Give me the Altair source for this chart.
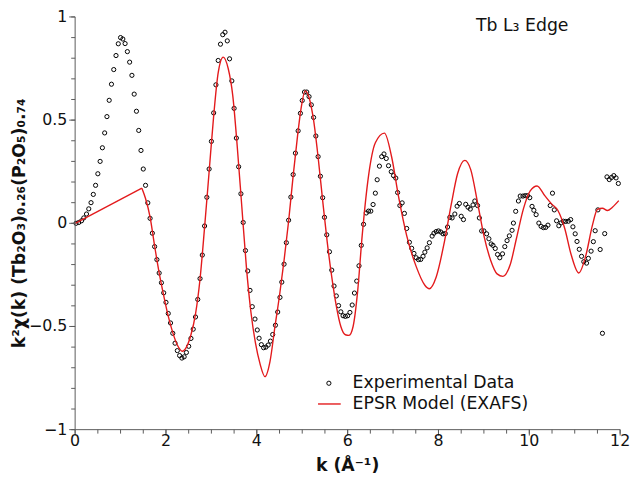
import altair as alt
import pandas as pd

# Experimental data (k, k^2 chi)
exp_k = [0.02, 0.08, 0.14, 0.19, 0.25, 0.30, 0.35, 0.40, 0.45, 0.50, 0.55, 0.60, 0.65, 0.70, 0.75,
         0.80, 0.85, 0.90, 0.95, 1.00, 1.05, 1.10, 1.15, 1.20, 1.25, 1.30, 1.35, 1.40, 1.45, 1.50,
         1.55, 1.60, 1.65, 1.70, 1.75, 1.80, 1.85, 1.90, 1.95, 2.00, 2.05, 2.10, 2.15, 2.20, 2.25,
         2.30, 2.35, 2.40, 2.45, 2.50, 2.55, 2.60, 2.65, 2.70, 2.75, 2.80, 2.85, 2.90, 2.95, 3.00,
         3.05, 3.10, 3.15, 3.20, 3.25, 3.30, 3.35, 3.40, 3.45, 3.50, 3.55, 3.60, 3.65, 3.70, 3.75,
         3.80, 3.85, 3.90, 3.96, 4.01, 4.05, 4.10, 4.15, 4.20, 4.25, 4.30, 4.35, 4.41, 4.46, 4.51,
         4.55, 4.60, 4.65, 4.70, 4.75, 4.80, 4.85, 4.91, 4.96, 5.00, 5.05, 5.10, 5.15, 5.20, 5.25,
         5.30, 5.35, 5.40, 5.45, 5.49, 5.54, 5.60, 5.65, 5.70, 5.75, 5.80, 5.85, 5.90, 5.95, 6.00,
         6.05, 6.10, 6.15, 6.20, 6.25, 6.30, 6.35, 6.41, 6.46, 6.51, 6.56, 6.61, 6.65, 6.70, 6.75,
         6.80, 6.85, 6.90, 6.96, 7.01, 7.06, 7.10, 7.15, 7.20, 7.25, 7.30, 7.36, 7.41, 7.46, 7.51,
         7.56, 7.61, 7.66, 7.70, 7.75, 7.80, 7.86, 7.90, 7.95, 8.00, 8.05, 8.10, 8.15, 8.20, 8.25,
         8.30, 8.36, 8.41, 8.46, 8.50, 8.55, 8.60, 8.65, 8.70, 8.76, 8.80, 8.86, 8.90, 8.95, 9.00,
         9.06, 9.11, 9.16, 9.20, 9.25, 9.30, 9.35, 9.41, 9.46, 9.51, 9.56, 9.62, 9.65, 9.70, 9.76,
         9.80, 9.86, 9.91, 9.96, 10.01, 10.06, 10.10, 10.15, 10.21, 10.26, 10.31, 10.36, 10.41, 10.46, 10.51,
         10.55, 10.60, 10.65, 10.70, 10.75, 10.80, 10.86, 10.91, 10.96, 11.01, 11.05, 11.10, 11.15, 11.20, 11.26,
         11.30, 11.36, 11.41, 11.45, 11.51, 11.56, 11.61, 11.66, 11.71, 11.76, 11.81, 11.86, 11.91, 11.96]
exp_v = [0.000, 0.004, 0.012, 0.026, 0.045, 0.070, 0.100, 0.140, 0.184, 0.240, 0.300, 0.366, 0.438, 0.517, 0.596,
         0.674, 0.745, 0.813, 0.870, 0.900, 0.893, 0.871, 0.832, 0.781, 0.717, 0.626, 0.543, 0.450, 0.353, 0.263,
         0.184, 0.099, 0.024, -0.048, -0.113, -0.176, -0.241, -0.288, -0.337, -0.383, -0.437, -0.483, -0.533, -0.581, -0.617,
         -0.641, -0.653, -0.647, -0.626, -0.596, -0.558, -0.513, -0.454, -0.369, -0.268, -0.154, -0.013, 0.126, 0.263, 0.397,
         0.535, 0.671, 0.789, 0.868, 0.914, 0.926, 0.884, 0.797, 0.690, 0.557, 0.413, 0.274, 0.143, 0.004, -0.132,
         -0.231, -0.325, -0.404, -0.464, -0.517, -0.557, -0.588, -0.603, -0.600, -0.590, -0.571, -0.539, -0.494, -0.430, -0.359,
         -0.285, -0.198, -0.094, 0.015, 0.127, 0.236, 0.340, 0.448, 0.533, 0.595, 0.636, 0.636, 0.614, 0.574, 0.513,
         0.423, 0.323, 0.228, 0.124, 0.029, -0.056, -0.138, -0.227, -0.304, -0.352, -0.399, -0.429, -0.448, -0.451, -0.448,
         -0.432, -0.396, -0.338, -0.280, -0.206, -0.107, -0.005, 0.050, 0.059, 0.059, 0.091, 0.146, 0.211, 0.277, 0.323,
         0.336, 0.314, 0.279, 0.250, 0.231, 0.219, 0.149, 0.086, 0.099, 0.048, -0.025, -0.092, -0.121, -0.146, -0.167,
         -0.176, -0.175, -0.160, -0.140, -0.119, -0.094, -0.062, -0.048, -0.040, -0.037, -0.042, -0.051, -0.050, -0.018, 0.029,
         0.026, 0.045, 0.083, 0.096, 0.034, 0.018, 0.092, 0.078, 0.069, 0.089, 0.108, 0.086, 0.026, -0.037, -0.037,
         -0.051, -0.075, -0.100, -0.107, -0.122, -0.151, -0.167, -0.148, -0.113, -0.084, -0.061, -0.034, 0.001, 0.058, 0.108,
         0.132, 0.132, 0.134, 0.134, 0.124, 0.082, 0.063, 0.042, 0.001, -0.015, -0.021, -0.020, -0.009, 0.086, 0.146,
         0.065, 0.012, -0.012, 0.002, 0.010, 0.009, 0.010, 0.018, -0.017, -0.051, -0.088, -0.126, -0.160, -0.186, -0.193,
         -0.170, -0.135, -0.089, -0.036, 0.065, -0.127, -0.533, -0.050, 0.225, 0.212, 0.222, 0.231, 0.220, 0.193]

# EPSR model curve
mod_k = [0.0, 1.47, 1.55, 1.65, 1.75, 1.85, 1.95, 2.05, 2.15, 2.25, 2.36, 2.45, 2.55, 2.65, 2.75,
         2.85, 2.95, 3.05, 3.15, 3.26, 3.37, 3.47, 3.57, 3.67, 3.77, 3.87, 3.97, 4.07, 4.18, 4.29,
         4.40, 4.50, 4.60, 4.70, 4.80, 4.90, 4.97, 5.065, 5.15, 5.25, 5.35, 5.45, 5.55, 5.65, 5.75,
         5.85, 5.95, 6.03, 6.12, 6.22, 6.32, 6.46, 6.61, 6.81, 6.97, 7.12, 7.30, 7.51, 7.70, 7.80,
         7.95, 8.13, 8.28, 8.42, 8.58, 8.71, 8.86, 9.00, 9.15, 9.29, 9.42, 9.58, 9.72, 9.87, 10.02,
         10.17, 10.34, 10.49, 10.63, 10.78, 10.92, 11.09, 11.25, 11.39, 11.50, 11.61, 11.72, 11.83, 11.97]
mod_v = [0.0, 0.170, 0.12, 0.03, -0.11, -0.24, -0.35, -0.45, -0.53, -0.59, -0.62, -0.60, -0.54, -0.44, -0.27,
         -0.02, 0.25, 0.52, 0.73, 0.805, 0.75, 0.62, 0.37, 0.08, -0.21, -0.43, -0.58, -0.68, -0.743, -0.67,
         -0.50, -0.35, -0.18, 0.01, 0.23, 0.43, 0.55, 0.642, 0.61, 0.50, 0.32, 0.11, -0.09, -0.26, -0.40,
         -0.50, -0.54, -0.543, -0.50, -0.33, -0.06, 0.23, 0.39, 0.437, 0.32, 0.13, -0.06, -0.21, -0.30, -0.317,
         -0.26, -0.09, 0.09, 0.24, 0.305, 0.26, 0.10, -0.06, -0.18, -0.245, -0.257, -0.20, -0.07, 0.07, 0.157,
         0.181, 0.134, 0.094, 0.062, -0.025, -0.151, -0.241, -0.151, -0.009, 0.067, 0.073, 0.062, 0.078, 0.11]
kink_k = 1.47

# axis ticks and tick labels
x_major_ticks = [0, 2, 4, 6, 8, 10, 12]
x_tick_labels = ["0", "2", "4", "6", "8", "10", "12"]
x_minor_ticks = [round(0.5 * i, 1) for i in range(25)]
y_major_ticks = [-1, -0.5, 0, 0.5, 1]
y_tick_labels = ["\u22121", "\u22120.5", "0", "0.5", "1"]
y_minor_ticks = [round(-1 + 0.1 * i, 1) for i in range(21)]

legend_labels = ["Experimental Data", "EPSR Model (EXAFS)"]
annotation = "Tb L\u2083 Edge"
x_title = "k (\u00c5\u207b\u00b9)"
y_title = "k\u00b2\u03c7(k) (Tb\u2082O\u2083)\u2080.\u2082\u2086(P\u2082O\u2085)\u2080.\u2087\u2084"

FONT = "DejaVu Sans"
RED = "#e31a1c"
AXC = "#5a5a5a"
TXT = "#111111"
W, H = 552, 418

exp_df = pd.DataFrame({"k": exp_k, "v": exp_v})
mod_df = pd.DataFrame({"k": mod_k, "v": mod_v})

xs = alt.Scale(domain=[0, 12], nice=False, zero=False)
ys = alt.Scale(domain=[-1, 1], nice=False, zero=False)

X = alt.X("k:Q", scale=xs, axis=None)
Y = alt.Y("v:Q", scale=ys, axis=None)

points = alt.Chart(exp_df).mark_point(shape="circle", filled=False, color="black",
                                       size=18, strokeWidth=1, opacity=1).encode(x=X, y=Y)

lead = alt.Chart(mod_df).transform_filter(alt.datum.k <= kink_k).mark_line(
    color=RED, strokeWidth=1.4, interpolate="linear").encode(x=X, y=Y)
fit = alt.Chart(mod_df).transform_filter(alt.datum.k >= kink_k).mark_line(
    color=RED, strokeWidth=1.4, interpolate="monotone").encode(x=X, y=Y)

# axis lines, ticks and labels drawn through the scales
def xticks(vals, length):
    return alt.Chart(pd.DataFrame({"k": vals})).mark_rule(color=AXC, strokeWidth=1).encode(
        x=X, y=alt.value(H), y2=alt.value(H + length))

def yticks(vals, length):
    return alt.Chart(pd.DataFrame({"v": vals})).mark_rule(color=AXC, strokeWidth=1).encode(
        y=Y, x=alt.value(0), x2=alt.value(-length))

x_line = alt.Chart(pd.DataFrame({"k": [0]})).mark_rule(color=AXC, strokeWidth=1).encode(
    x=alt.value(0), x2=alt.value(W), y=alt.value(H))
y_line = alt.Chart(pd.DataFrame({"v": [0]})).mark_rule(color=AXC, strokeWidth=1).encode(
    x=alt.value(0), y=alt.value(0), y2=alt.value(H))

x_labels = alt.Chart(pd.DataFrame({"k": x_major_ticks, "lab": x_tick_labels})).mark_text(
    align="center", baseline="middle", font=FONT, fontSize=16, color=TXT
).encode(x=X, y=alt.value(H + 12), text="lab:N")
y_labels = alt.Chart(pd.DataFrame({"v": y_major_ticks, "lab": y_tick_labels})).mark_text(
    align="right", baseline="middle", font=FONT, fontSize=16, color=TXT
).encode(y=Y, x=alt.value(-8), text="lab:N")

x_title_mark = alt.Chart(pd.DataFrame({"t": [x_title]})).mark_text(
    align="center", baseline="middle", font=FONT, fontSize=17.5, fontWeight="bold", color=TXT
).encode(x=alt.value(W / 2), y=alt.value(H + 37), text="t:N")
y_title_mark = alt.Chart(pd.DataFrame({"t": [y_title]})).mark_text(
    align="center", baseline="middle", font=FONT, fontSize=17.5, fontWeight="bold", color=TXT,
    angle=270
).encode(x=alt.value(-56), y=alt.value(H / 2), text="t:N")

axes = [x_line, y_line, xticks(x_minor_ticks, 4), xticks(x_major_ticks, 6),
        yticks(y_minor_ticks, 4), yticks(y_major_ticks, 6),
        x_labels, y_labels, x_title_mark, y_title_mark]

leg_sym = alt.Chart(pd.DataFrame({"label": [legend_labels[0]]})).mark_point(
    shape="circle", filled=False, color="black", size=18, strokeWidth=1, opacity=1
).encode(x=alt.value(257), y=alt.value(371))
leg_line = alt.Chart(pd.DataFrame({"label": [legend_labels[1]]})).mark_rule(
    color=RED, strokeWidth=1.4).encode(x=alt.value(246), x2=alt.value(269), y=alt.value(392))
leg_t1 = alt.Chart(pd.DataFrame({"label": [legend_labels[0]]})).mark_text(
    align="left", baseline="middle", font=FONT, fontSize=17.5, color=TXT
).encode(x=alt.value(281), y=alt.value(371), text="label:N")
leg_t2 = alt.Chart(pd.DataFrame({"label": [legend_labels[1]]})).mark_text(
    align="left", baseline="middle", font=FONT, fontSize=17.5, color=TXT
).encode(x=alt.value(281), y=alt.value(392), text="label:N")
ann = alt.Chart(pd.DataFrame({"t": [annotation]})).mark_text(
    align="left", baseline="middle", font=FONT, fontSize=17.5, color=TXT
).encode(x=alt.value(406), y=alt.value(9), text="t:N")

chart = alt.layer(points, lead, fit, *axes, leg_sym, leg_line, leg_t1, leg_t2, ann).properties(
    width=W, height=H,
    autosize=alt.AutoSizeParams(type="none"),
    padding={"left": 68, "top": 6, "right": 12, "bottom": 53},
).configure_view(strokeWidth=0)

chart.save("out.html", embed_options={"renderer": "svg", "actions": False})
